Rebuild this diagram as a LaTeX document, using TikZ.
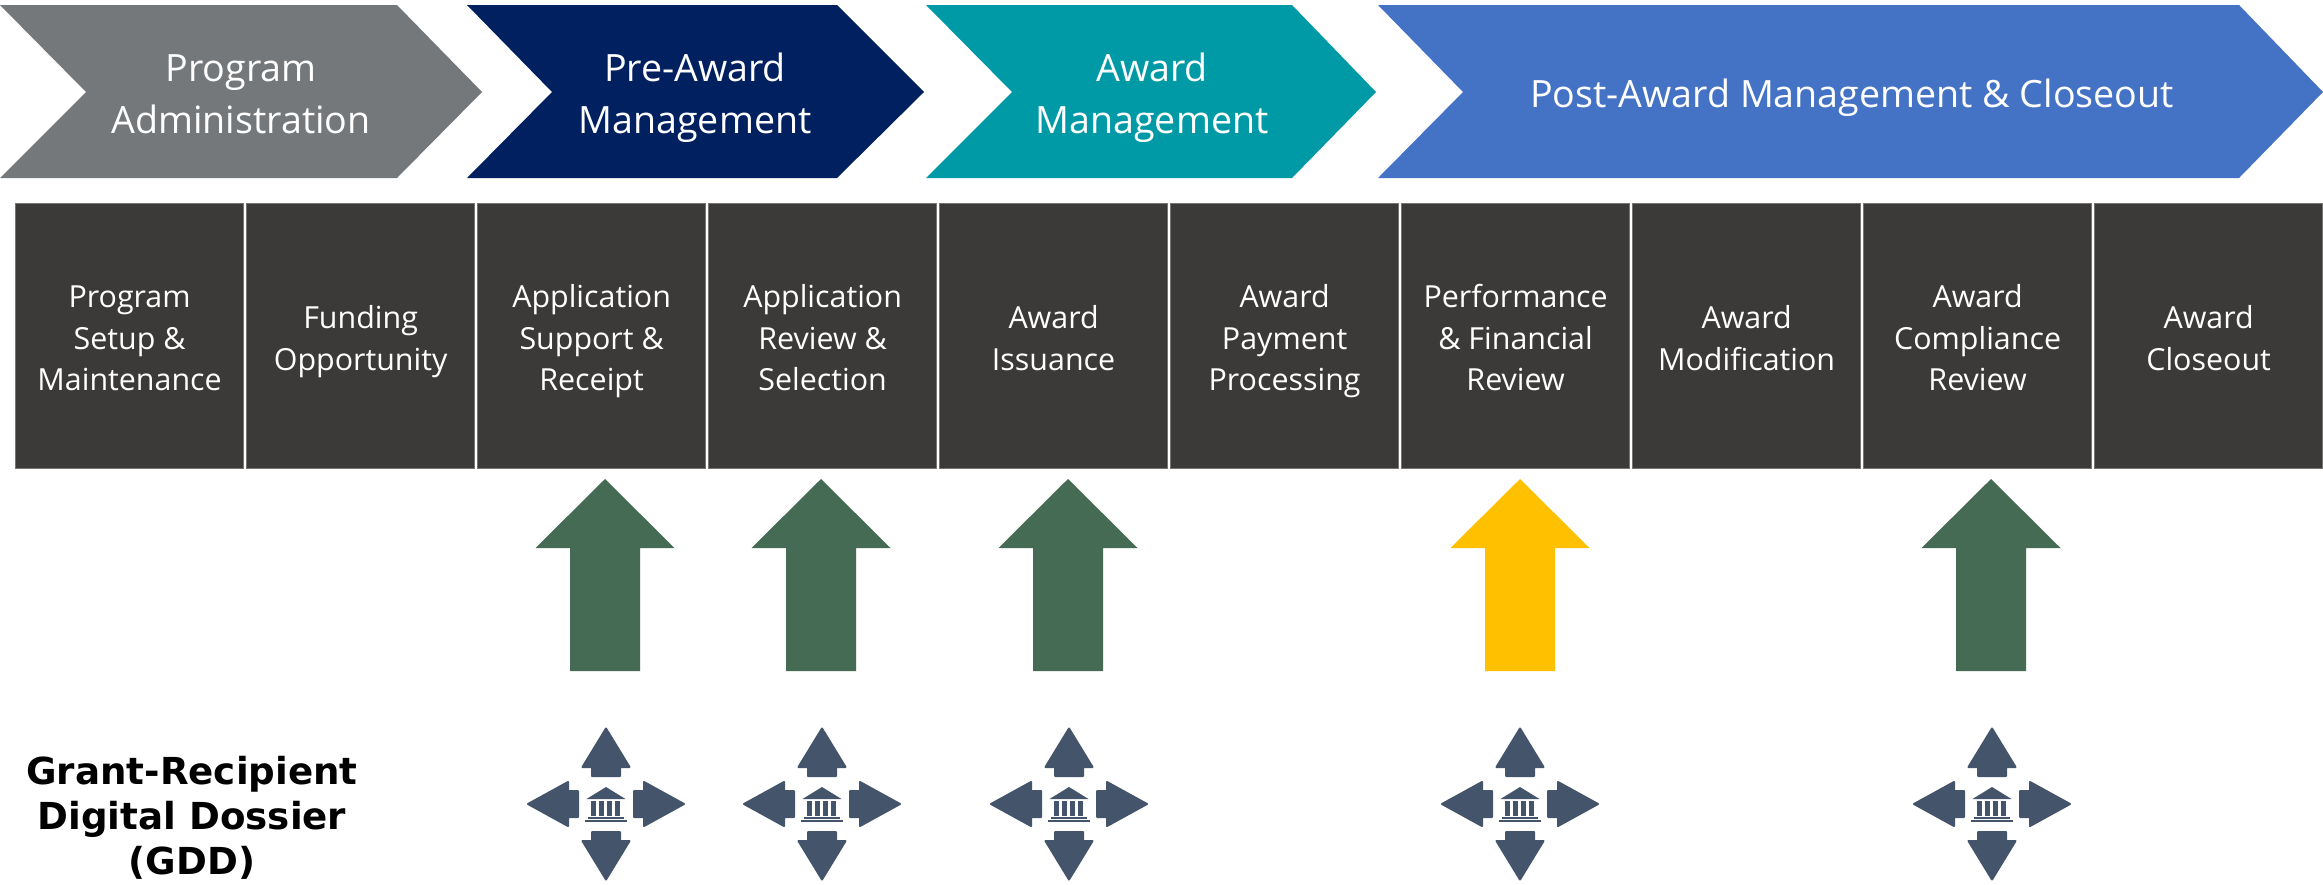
\documentclass[tikz,border=0pt]{standalone}
\usepackage{fontspec}
\setmainfont{Open Sans}
\newfontfamily\gddfont{DejaVu Sans}
\definecolor{cgray}{HTML}{75787B}
\definecolor{cnavy}{HTML}{002060}
\definecolor{cteal}{HTML}{009AA6}
\definecolor{cblue}{HTML}{4472C4}
\definecolor{cbox}{HTML}{3B3A38}
\definecolor{cgreen}{HTML}{456B54}
\definecolor{cyell}{HTML}{FFC000}
\definecolor{cslate}{HTML}{44546A}
\tikzset{
  x=0.5pt,y=-0.5pt,
  phasetxt/.style={text=white,align=center,font=\fontsize{18.8}{26}\selectfont,inner sep=0pt},
  boxtxt/.style={text=white,align=center,font=\fontsize{15.2}{20.75}\selectfont,inner sep=0pt},
  stepbox/.style={fill=cbox,draw=cbox!70!white,line width=0.4pt},
  minor/.style={fill=cslate,draw=cslate,line width=1pt,line join=round},
  gddtxt/.style={align=center,font=\gddfont\bfseries\fontsize{18.6}{22.5}\selectfont,inner sep=0pt,text=black}
}
\newcommand{\chev}[8]{% name,left,notch,topright,tip,color,cx,text
  \fill[#6] (#2,5) -- (#4,5) -- (#5,92) -- (#4,178) -- (#2,178) -- (#3,92) -- cycle;
  \node[phasetxt] (#1) at (#7,97.5) {\strut #8\strut};
}
\newcommand{\stepb}[3]{% name,index,text
  \pgfmathsetmacro{\xl}{15+231*#2}
  \pgfmathsetmacro{\xr}{\xl+228.5}
  \pgfmathsetmacro{\xc}{\xl+114.6}
  \path[stepbox] (\xl,203) rectangle (\xr,468);
  \node[boxtxt] (#1) at (\xc,341) {\strut #3\strut};
}
\newcommand{\bigarrow}[3]{% name,cx,color
  \fill[#3] (#2,479) -- (#2+69.5,548) -- (#2+35,548) -- (#2+35,671) -- (#2-35,671) -- (#2-35,548) -- (#2-69.5,548) -- cycle;
  \coordinate (#1) at (#2,575);
}
\newcommand{\cluster}[2]{% name, cx
  \begin{scope}[shift={(#2,804)}]
    \coordinate (#1) at (0,0);
    \path[minor] (0,-75.5) -- (23.5,-37) -- (14,-37) -- (14,-28) -- (-14,-28) -- (-14,-37) -- (-23.5,-37) -- cycle;
    \path[minor] (0,75.5) -- (23.5,37) -- (14,37) -- (14,28) -- (-14,28) -- (-14,37) -- (-23.5,37) -- cycle;
    \path[minor] (-78,0) -- (-38,-22) -- (-38,-13) -- (-28,-13) -- (-28,13) -- (-38,13) -- (-38,22) -- cycle;
    \path[minor] (78,0) -- (38,-22) -- (38,-13) -- (28,-13) -- (28,13) -- (38,13) -- (38,22) -- cycle;
    \fill[cslate] (0,-17) -- (19.5,-5) -- (-19.5,-5) -- cycle;
    \foreach \q in {-15,-7,1,9}{\fill[cslate] (\q,-3) rectangle (\q+5,12);}
    \fill[cslate] (-18,13) rectangle (18,15);
    \fill[cslate] (-21,16) rectangle (21,18);
  \end{scope}
}
\begin{document}
\begin{tikzpicture}
\useasboundingbox (0,0) rectangle (2323,884);
\fill[white] (0,0) rectangle (2323,884);
\chev{p1}{0}{86}{397}{482}{cgray}{241}{Program\\Administration}
\chev{p2}{467}{552}{837}{924}{cnavy}{695}{Pre-Award\\Management}
\chev{p3}{926}{1012}{1292}{1376}{cteal}{1152}{Award\\Management}
\chev{p4}{1378}{1463}{2239}{2323}{cblue}{1852}{Post-Award Management \& Closeout}
\stepb{s0}{0}{Program\\Setup \&\\Maintenance}
\stepb{s1}{1}{Funding\\Opportunity}
\stepb{s2}{2}{Application\\Support \&\\Receipt}
\stepb{s3}{3}{Application\\Review \&\\Selection}
\stepb{s4}{4}{Award\\Issuance}
\stepb{s5}{5}{Award\\Payment\\Processing}
\stepb{s6}{6}{Performance\\\& Financial\\Review}
\stepb{s7}{7}{Award\\Modification}
\stepb{s8}{8}{Award\\Compliance\\Review}
\stepb{s9}{9}{Award\\Closeout}
\bigarrow{a1}{605}{cgreen}
\bigarrow{a2}{821}{cgreen}
\bigarrow{a3}{1068}{cgreen}
\bigarrow{a4}{1520}{cyell}
\bigarrow{a5}{1991}{cgreen}
\cluster{c1}{606}
\cluster{c2}{822}
\cluster{c3}{1069}
\cluster{c4}{1520}
\cluster{c5}{1992}
\node[gddtxt] (gdd) at (192,820) {\strut Grant-Recipient\\Digital Dossier\\(GDD)\strut};
\end{tikzpicture}
\end{document}
